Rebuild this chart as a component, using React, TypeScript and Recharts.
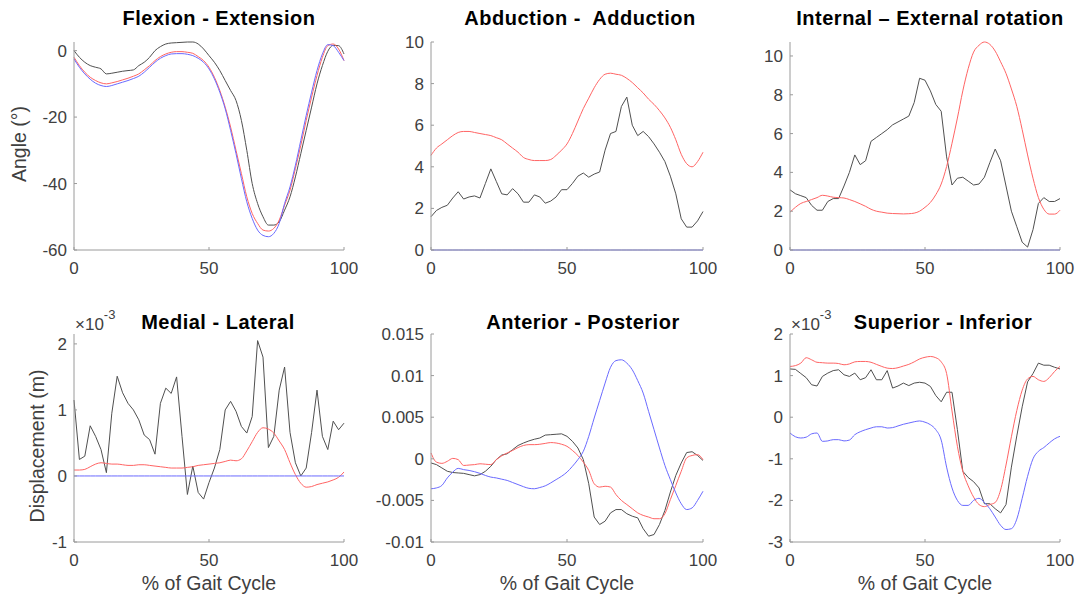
import React from "react";
import { LineChart, Line, XAxis, YAxis } from "recharts";

const FONT = '"Liberation Sans", Arial, Helvetica, sans-serif';
const INK = "#404040";
const AXIS = "#9a9a9a";
const C_BLACK = "#505050";
const C_RED = "#ff6464";
const C_BLUE = "#6a6aff";

// % of gait cycle
const pct = [0, 2, 4, 6, 8, 10, 12, 14, 16, 18, 20, 22, 24, 26, 28, 30, 32, 34, 36, 38, 40, 42, 44, 46, 48, 50, 52, 54, 56, 58, 60, 62, 64, 66, 68, 70, 72, 74, 76, 78, 80, 82, 84, 86, 88, 90, 92, 94, 96, 98, 100];

const zeroLine = [0, 0, 0, 0, 0, 0, 0, 0, 0, 0, 0, 0, 0, 0, 0, 0, 0, 0, 0, 0, 0, 0, 0, 0, 0, 0, 0, 0, 0, 0, 0, 0, 0, 0, 0, 0, 0, 0, 0, 0, 0, 0, 0, 0, 0, 0, 0, 0, 0, 0, 0];

// flexion - extension (deg)
const flexBlack = [0, -2, -3.5, -4.5, -5, -5.5, -7, -6.8, -6.5, -6.2, -6, -5.8, -4.5, -3.5, -2, 0, 1.2, 2, 2.3, 2.4, 2.5, 2.6, 2.6, 2, 0.5, -1.5, -3.5, -6, -9, -12, -15, -21, -30, -40, -46, -50, -52.5, -52.5, -51.5, -48, -44, -38, -31, -24, -17, -10, -4.5, -0.2, 1.6, 1.5, -1];
const flexRed = [-2, -4.5, -6.5, -8, -9, -9.7, -10, -9.7, -9.3, -8.8, -8.3, -7.7, -7, -5.8, -4.5, -3, -1.8, -1, -0.5, -0.3, -0.3, -0.5, -0.8, -1.8, -3, -5, -8, -12, -17, -23, -30, -37, -44, -49, -52, -54, -54.3, -53.5, -51, -46.5, -42, -35.5, -28.5, -21, -14, -7.5, -2, 1.5, 2, 0.5, -3];
const flexBlue = [-2.5, -5, -7, -8.6, -9.8, -10.5, -10.8, -10.5, -10, -9.5, -9, -8.4, -7.7, -6.5, -5, -3.5, -2.3, -1.5, -1, -0.9, -0.9, -1.1, -1.5, -2.3, -3.5, -5.5, -8.5, -12.5, -17.5, -24, -31, -38.5, -45.5, -50.5, -54, -55.6, -56, -55, -52, -46, -41, -34.5, -27, -19.5, -12.5, -6, -1, 1.8, 1.5, -0.5, -3];

// abduction - adduction (deg)
const abdBlack = [1.6, 1.9, 2.05, 2.15, 2.5, 2.8, 2.45, 2.55, 2.6, 2.5, 3.2, 3.9, 3.3, 2.7, 2.65, 2.95, 2.7, 2.3, 2.3, 2.65, 2.55, 2.25, 2.35, 2.55, 2.9, 2.9, 3.2, 3.55, 3.7, 3.5, 3.65, 3.75, 4.8, 5.6, 5.7, 6.9, 7.35, 6.0, 5.5, 5.7, 5.45, 5.1, 4.7, 4.25, 3.55, 2.7, 1.5, 1.1, 1.1, 1.4, 1.85];
const abdRed = [4.55, 4.9, 5.1, 5.3, 5.5, 5.65, 5.7, 5.7, 5.65, 5.6, 5.55, 5.5, 5.4, 5.3, 5.1, 4.9, 4.7, 4.45, 4.35, 4.3, 4.3, 4.3, 4.35, 4.55, 4.8, 5.1, 5.6, 6.2, 6.8, 7.3, 7.8, 8.2, 8.45, 8.5, 8.45, 8.4, 8.25, 8.05, 7.8, 7.55, 7.25, 7.0, 6.7, 6.35, 5.9, 5.3, 4.6, 4.15, 4.0, 4.25, 4.7];

// internal - external rotation (deg)
const rotBlack = [3.1, 2.9, 2.8, 2.7, 2.3, 2.05, 2.05, 2.5, 2.65, 2.65, 3.3, 4.0, 4.9, 4.4, 4.6, 5.6, 5.8, 6.0, 6.2, 6.45, 6.6, 6.75, 6.9, 7.6, 8.85, 8.75, 8.2, 7.5, 7.15, 4.8, 3.35, 3.7, 3.75, 3.55, 3.35, 3.4, 3.75, 4.5, 5.2, 4.6, 3.3, 2.0, 1.2, 0.4, 0.15, 1.05, 2.4, 2.7, 2.5, 2.5, 2.65];
const rotRed = [1.95, 2.2, 2.4, 2.5, 2.6, 2.7, 2.82, 2.78, 2.72, 2.7, 2.68, 2.6, 2.5, 2.38, 2.25, 2.1, 2.0, 1.95, 1.9, 1.88, 1.87, 1.86, 1.87, 1.9, 2.0, 2.2, 2.45, 2.85, 3.4, 4.3, 5.5, 6.8, 8.2, 9.35, 10.2, 10.55, 10.72, 10.6, 10.25, 9.7, 9.1, 8.3, 7.4, 6.2, 4.9, 3.7, 2.7, 2.1, 1.85, 1.85, 2.05];

// medial - lateral (x1e-3 m)
const mlBlack = [1.15, 0.25, 0.3, 0.76, 0.6, 0.4, 0.05, 0.95, 1.51, 1.26, 1.1, 1.0, 0.85, 0.62, 0.55, 0.33, 1.1, 1.33, 1.25, 1.5, 0.6, -0.28, 0.15, -0.25, -0.35, -0.1, 0.12, 0.4, 1.0, 1.13, 0.98, 0.75, 0.65, 0.9, 2.05, 1.8, 0.43, 0.6, 1.3, 1.65, 0.66, 0.2, 0.0, 0.12, 0.66, 1.3, 0.6, 0.4, 0.83, 0.7, 0.8];
const mlRed = [0.09, 0.09, 0.1, 0.14, 0.18, 0.2, 0.19, 0.18, 0.18, 0.17, 0.16, 0.16, 0.17, 0.17, 0.16, 0.15, 0.14, 0.13, 0.12, 0.12, 0.12, 0.13, 0.14, 0.16, 0.17, 0.18, 0.19, 0.2, 0.22, 0.24, 0.23, 0.26, 0.38, 0.52, 0.66, 0.73, 0.71, 0.65, 0.53, 0.4, 0.2, 0.02, -0.11, -0.17, -0.16, -0.13, -0.11, -0.09, -0.06, -0.02, 0.06];

// anterior - posterior (mm, shown in m)
const apBlack = [-0.5, -0.7, -1.1, -1.5, -1.65, -1.7, -1.75, -1.9, -2.05, -1.9, -1.5, -0.9, -0.1, 0.45, 0.6, 1.1, 1.6, 1.9, 2.15, 2.35, 2.5, 2.85, 2.9, 2.95, 3.0, 2.7, 2.1, 1.3, -0.1, -3.0, -7.0, -7.9, -7.5, -6.5, -6.1, -6.1, -6.6, -6.9, -7.1, -8.4, -9.3, -9.1, -7.9, -6.2, -4.0, -2.0, -0.5, 0.75, 0.85, 0.4, -0.2];
const apRed = [0.7, -0.4, -0.55, -0.3, 0.05, -0.1, -0.8, -0.75, -0.7, -0.6, -0.65, -0.7, -0.1, 0.35, 0.7, 1.0, 1.35, 1.6, 1.7, 1.7, 1.75, 1.85, 1.95, 1.9, 1.75, 1.5, 1.0, 0.4, -0.4, -1.4, -3.0, -3.4, -3.3, -3.4, -4.3, -5.0, -5.5, -6.0, -6.5, -6.8, -7.0, -7.2, -7.2, -6.6, -4.9, -3.2, -1.5, 0.1, 0.4, 0.5, -0.1];
const apBlue = [-3.6, -3.5, -3.2, -2.3, -1.6, -1.15, -1.3, -1.4, -1.55, -1.75, -2.0, -2.2, -2.3, -2.45, -2.6, -2.85, -3.1, -3.35, -3.55, -3.6, -3.45, -3.25, -2.9, -2.5, -2.1, -1.6, -0.9, -0.1, 0.9, 2.7, 4.9, 7.0, 9.1, 11.0, 11.8, 11.9, 11.5, 10.7, 9.4, 7.9, 5.7, 3.5, 1.3, -0.8, -2.5, -4.1, -5.4, -6.1, -5.9, -5.0, -3.9];

// superior - inferior (x1e-3 m)
const siBlack = [1.16, 1.15, 1.05, 0.95, 0.78, 0.75, 0.98, 1.06, 1.12, 1.14, 1.02, 0.98, 1.06, 0.9, 0.95, 1.14, 0.9, 0.9, 1.12, 0.7, 0.75, 0.82, 0.76, 0.82, 0.84, 0.82, 0.74, 0.52, 0.37, 0.6, 0.6, -0.3, -1.3, -1.45, -1.55, -1.7, -2.08, -2.08, -2.2, -2.3, -2.1, -1.2, -0.45, 0.25, 0.85, 1.05, 1.3, 1.25, 1.25, 1.2, 1.16];
const siRed = [1.22, 1.24, 1.3, 1.43, 1.38, 1.32, 1.31, 1.3, 1.3, 1.29, 1.26, 1.28, 1.33, 1.34, 1.34, 1.32, 1.27, 1.22, 1.18, 1.17, 1.19, 1.23, 1.27, 1.33, 1.4, 1.44, 1.46, 1.43, 1.33, 1.05, 0.15, -0.7, -1.3, -1.65, -1.92, -2.1, -2.15, -2.1, -2.05, -1.75, -1.15, -0.47, 0.16, 0.65, 0.92, 0.98, 0.9, 0.86, 0.95, 1.1, 1.22];
const siBlue = [-0.38, -0.47, -0.5, -0.48, -0.4, -0.38, -0.58, -0.57, -0.54, -0.54, -0.57, -0.55, -0.42, -0.35, -0.3, -0.26, -0.23, -0.23, -0.26, -0.25, -0.21, -0.17, -0.14, -0.11, -0.09, -0.12, -0.18, -0.3, -0.55, -1.2, -1.7, -2.0, -2.12, -2.12, -2.0, -1.95, -2.05, -2.2, -2.4, -2.6, -2.7, -2.68, -2.45, -1.95, -1.42, -1.0, -0.82, -0.73, -0.62, -0.52, -0.46];

const xTicks = [0, 50, 100];

const panels = [
  { left: 74, top: 42, w: 270, domain: [-60, 2.6], ticks: [-60, -40, -20, 0], black: flexBlack, red: flexRed, blue: flexBlue, smoothBlack: true },
  { left: 431, top: 42, w: 272, domain: [0, 10], ticks: [0, 2, 4, 6, 8, 10], black: abdBlack, red: abdRed, blue: zeroLine },
  { left: 790, top: 42, w: 270, domain: [0, 10.72], ticks: [0, 2, 4, 6, 8, 10], black: rotBlack, red: rotRed, blue: zeroLine },
  { left: 74, top: 334, w: 270, domain: [-1, 2.15], ticks: [-1, 0, 1, 2], black: mlBlack, red: mlRed, blue: zeroLine },
  { left: 431, top: 334, w: 272, domain: [-10, 15], ticks: [-10, -5, 0, 5, 10, 15], black: apBlack, red: apRed, blue: apBlue, fmt: (v: number) => String(v / 1000) },
  { left: 790, top: 334, w: 270, domain: [-3, 2], ticks: [-3, -2, -1, 0, 1, 2], black: siBlack, red: siRed, blue: siBlue },
];

const titles = [
  { text: "Flexion - Extension", x: 219, y: 25 },
  { text: "Abduction -  Adduction", x: 580, y: 25 },
  { text: "Internal \u2013 External rotation", x: 930, y: 25 },
  { text: "Medial - Lateral", x: 218, y: 329 },
  { text: "Anterior - Posterior", x: 583, y: 329 },
  { text: "Superior - Inferior", x: 943, y: 329 },
];

const PLOT_H = 208;
const YW = 60;
const TOP_PAD = 10;
const RIGHT_PAD = 20;
const XH = 30;

function Panel({ p }: { p: any }) {
  const data = pct.map((x, i) => ({ x, k: p.black[i], r: p.red[i], b: p.blue[i] }));
  const tick = { fill: INK, fontSize: 17, fontFamily: FONT };
  return (
    <div style={{ position: "absolute", left: p.left - YW, top: p.top - TOP_PAD }}>
      <LineChart
        width={p.w + YW + RIGHT_PAD}
        height={PLOT_H + TOP_PAD + XH}
        data={data}
        margin={{ top: TOP_PAD, right: RIGHT_PAD, left: 0, bottom: 0 }}
      >
        <XAxis
          dataKey="x"
          type="number"
          domain={[0, 100]}
          ticks={xTicks}
          interval={0}
          height={XH}
          stroke={AXIS}
          tickSize={-3}
          tickMargin={15}
          tick={tick}
        />
        <YAxis
          type="number"
          domain={p.domain}
          ticks={p.ticks}
          interval={0}
          width={YW}
          stroke={AXIS}
          tickSize={-3}
          tickMargin={10}
          tick={tick}
          tickFormatter={p.fmt}
        />
        <Line dataKey="k" stroke={C_BLACK} strokeWidth={1} dot={false} type={p.smoothBlack ? "monotone" : "linear"} isAnimationActive={false} />
        <Line dataKey="r" stroke={C_RED} strokeWidth={1} dot={false} type="monotone" isAnimationActive={false} />
        <Line dataKey="b" stroke={C_BLUE} strokeWidth={1} dot={false} type="monotone" isAnimationActive={false} />
      </LineChart>
    </div>
  );
}

export default function App() {
  return (
    <div style={{ position: "absolute", left: 0, top: 0, width: 1080, height: 601, background: "#fff", overflow: "hidden", fontFamily: FONT }}>
      {panels.map((p, i) => (
        <Panel key={i} p={p} />
      ))}
      <svg width={1080} height={601} style={{ position: "absolute", left: 0, top: 0, pointerEvents: "none" }} fontFamily={FONT}>
        {titles.map((t) => (
          <text key={t.text} x={t.x} y={t.y} textAnchor="middle" fontSize={20} fontWeight="bold" letterSpacing={0.5} fill="#000" style={{ whiteSpace: "pre" }}>
            {t.text}
          </text>
        ))}
        <text transform="translate(26 144) rotate(-90)" textAnchor="middle" fontSize={19.5} fill={INK}>Angle (°)</text>
        <text transform="translate(44 446) rotate(-90)" textAnchor="middle" fontSize={19.5} fill={INK}>Displacement (m)</text>
        {[209, 567, 925].map((cx) => (
          <text key={cx} x={cx} y={590} textAnchor="middle" fontSize={19.5} fill={INK}>% of Gait Cycle</text>
        ))}
        {[75, 791].map((lx) => (
          <text key={lx} x={lx} y={330} fontSize={17} fill={INK}>
            ×10<tspan dy={-11} fontSize={13}>-3</tspan>
          </text>
        ))}
      </svg>
    </div>
  );
}
